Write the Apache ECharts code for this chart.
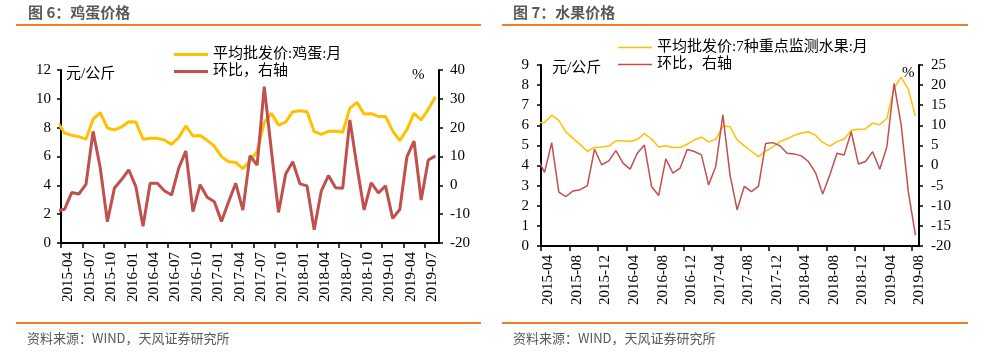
<!DOCTYPE html>
<html><head><meta charset="utf-8">
<script src="https://cdn.jsdelivr.net/npm/echarts@6/dist/echarts.min.js"></script>
<style>html,body{margin:0;padding:0;background:#fff}#c{width:992px;height:359px}</style>
</head><body><div id="c"></div>
<script>
// Months (2015-03 is the point just before the axis start; it is clipped by the grid)
const months = [
 '2015-03','2015-04','2015-05','2015-06','2015-07','2015-08','2015-09','2015-10','2015-11','2015-12',
 '2016-01','2016-02','2016-03','2016-04','2016-05','2016-06','2016-07','2016-08','2016-09','2016-10','2016-11','2016-12',
 '2017-01','2017-02','2017-03','2017-04','2017-05','2017-06','2017-07','2017-08','2017-09','2017-10','2017-11','2017-12',
 '2018-01','2018-02','2018-03','2018-04','2018-05','2018-06','2018-07','2018-08','2018-09','2018-10','2018-11','2018-12',
 '2019-01','2019-02','2019-03','2019-04','2019-05','2019-06','2019-07','2019-08'
];
// 平均批发价:鸡蛋:月 (元/公斤)
const eggPrice = [8.4,
 7.63,7.47,7.38,7.2,8.59,9.05,7.98,7.84,8.05,
 8.41,8.39,7.2,7.26,7.26,7.14,6.84,7.31,8.12,7.43,7.46,7.12,
 6.72,5.99,5.64,5.59,5.15,5.7,6.35,8.35,8.99,8.18,8.39,9.11,
 9.18,9.11,7.72,7.54,7.75,7.75,7.68,9.36,9.76,8.94,8.97,8.78,
 8.78,7.78,7.1,7.87,8.99,8.53,9.28,10.15];
// 鸡蛋 环比 (%)
const eggMoM = [-8.8,
 -8.3,-2.5,-3.0,0.3,18.7,6.2,-12.6,-0.9,2.0,
 5.4,-0.5,-14.2,0.7,0.7,-1.9,-3.35,5.9,11.9,-9.1,0.2,-4.1,
 -5.7,-12.5,-5.7,0.7,-8.6,10.3,7.0,34.2,12.0,-9.4,3.9,8.2,
 0.5,-0.2,-15.4,-1.9,3.4,-0.8,-1.0,22.7,6.5,-8.55,0.9,-2.65,
 -0.2,-11.45,-8.4,9.9,15.3,-5.1,8.8,10.2];
// 平均批发价:7种重点监测水果:月 (元/公斤)
const fruitPrice = [6.15,
 6.13,6.51,6.25,5.66,5.35,5.04,4.71,4.9,4.92,
 4.97,5.23,5.23,5.2,5.3,5.59,5.32,4.92,4.98,4.9,4.9,5.06,
 5.28,5.41,5.18,5.3,5.97,5.93,5.28,4.98,4.71,4.44,4.72,4.92,
 5.19,5.33,5.5,5.62,5.68,5.5,5.15,4.97,5.19,5.32,5.75,5.8,
 5.82,6.11,6.03,6.35,7.85,8.39,7.8,6.46];
// 水果 环比 (%)
const fruitMoM = [1.8,
 -1.7,5.7,-6.6,-7.7,-6.3,-6.0,-5.0,4.05,0.2,
 1.15,3.7,0.6,-0.9,3.07,5.1,-5.2,-7.45,1.65,-1.9,-0.65,4.0,
 3.5,2.65,-4.8,-0.25,12.6,-2.3,-11.0,-5.2,-6.5,-5.1,5.5,5.7,
 4.9,3.05,2.9,2.4,1.0,-1.8,-7.1,-2.3,3.05,2.6,8.4,0.4,
 1.0,3.45,-0.9,4.7,20.4,10.1,-6.5,-17.3];
const eggTicks = ['2015-04','2015-07','2015-10','2016-01','2016-04','2016-07','2016-10','2017-01','2017-04','2017-07','2017-10','2018-01','2018-04','2018-07','2018-10','2019-01','2019-04','2019-07'];
const fruitTicks = ['2015-04','2015-08','2015-12','2016-04','2016-08','2016-12','2017-04','2017-08','2017-12','2018-04','2018-08','2018-12','2019-04','2019-08'];

const START = '2015-04', END = '2019-09';
function idx(m){ const p = m.split('-').map(Number); const s = START.split('-').map(Number); return (p[0]-s[0])*12 + (p[1]-s[1]); }
function pos(m){ return idx(m) + 0.5; } // monthly value plotted mid-month
function pairs(arr){ return arr.map((v,i)=>[pos(months[i]), v]); }

const SERIF = '"Liberation Serif","Times New Roman","Noto Sans CJK SC",serif';
const CJK = '"Noto Sans CJK SC","Microsoft YaHei",sans-serif';
const ORANGE = '#EF7F22';
const YEL = '#FFC000', RED = '#C0504D';

function xAxis(grid, ticks){
  const step = idx(ticks[1]) - idx(ticks[0]);
  const vals = ticks.map(t=>idx(t));
  return {
    type:'value', gridIndex:grid, min:0, max:idx(END), interval:step,
    splitLine:{show:false},
    axisLine:{show:true, lineStyle:{color:'#000', width:2}},
    axisTick:{show:true, length:5, lineStyle:{color:'#000', width:1.5}, customValues:vals},
    axisLabel:{rotate:90, margin:9, fontSize:15, fontFamily:SERIF, color:'#000', verticalAlign:'top',
      customValues:vals, formatter:v=>ticks[vals.indexOf(v)] || ''}
  };
}
function yAxis(grid, position, min, max, interval, margin){
  return {
    type:'value', gridIndex:grid, position, min, max, interval,
    splitLine:{show:false},
    axisLine:{show:true, onZero:false, lineStyle:{color:'#000', width:2}},
    axisTick:{show:true, length:4, lineStyle:{color:'#000', width:1.5}},
    axisLabel:{margin, fontSize:15, fontFamily:SERIF, color:'#000'}
  };
}

function text(x, y, t, font, color, extra){
  return Object.assign({type:'text', x, y, silent:true, style:{text:t, font, fill:color, align:'left', verticalAlign:'middle'}}, extra||{});
}
function hline(x1, x2, y){
  return {type:'line', silent:true, shape:{x1, y1:y, x2, y2:y}, style:{stroke:ORANGE, lineWidth:2}};
}

const chart = echarts.init(document.getElementById('c'), null, {renderer:'canvas'});
chart.setOption({
  animation:false,
  backgroundColor:'#fff',
  grid:[
    {left:61, top:70, width:378, height:173},
    {left:541, top:65, width:378, height:181}
  ],
  xAxis:[ xAxis(0, eggTicks), xAxis(1, fruitTicks) ],
  yAxis:[
    yAxis(0,'left',0,12,2,10),
    yAxis(0,'right',-20,40,10,11),
    yAxis(1,'left',0,9,1,12),
    yAxis(1,'right',-20,25,5,12)
  ],
  legend:[
    {left:174, top:47, padding:0, orient:'vertical', itemWidth:34, itemHeight:3, itemGap:2, icon:'rect', selectedMode:false,
     data:['平均批发价:鸡蛋:月','环比，右轴'],
     textStyle:{fontSize:15, lineHeight:15, fontFamily:SERIF, color:'#000'}},
    {left:618, top:40, padding:0, orient:'vertical', itemWidth:34, itemHeight:1.5, itemGap:2, icon:'rect', selectedMode:false,
     data:['平均批发价:7种重点监测水果:月','环比，右轴 '],
     textStyle:{fontSize:15, lineHeight:15, fontFamily:SERIF, color:'#000'}}
  ],
  series:[
    {type:'line', name:'平均批发价:鸡蛋:月', xAxisIndex:0, yAxisIndex:0, data:pairs(eggPrice), symbol:'none', clip:true,
     lineStyle:{color:YEL, width:3}, itemStyle:{color:YEL}},
    {type:'line', name:'环比，右轴', xAxisIndex:0, yAxisIndex:1, data:pairs(eggMoM), symbol:'none', clip:true,
     lineStyle:{color:RED, width:3}, itemStyle:{color:RED}},
    {type:'line', name:'平均批发价:7种重点监测水果:月', xAxisIndex:1, yAxisIndex:2, data:pairs(fruitPrice), symbol:'none', clip:true,
     lineStyle:{color:YEL, width:1.5}, itemStyle:{color:YEL}},
    {type:'line', name:'环比，右轴 ', xAxisIndex:1, yAxisIndex:3, data:pairs(fruitMoM), symbol:'none', clip:true,
     lineStyle:{color:RED, width:1.5}, itemStyle:{color:RED}}
  ],
  graphic:[
    text(28, 12, '图 6：鸡蛋价格', 'bold 15px '+CJK, '#595959'),
    text(513, 12, '图 7：水果价格', 'bold 15px '+CJK, '#595959'),
    hline(16, 481, 25),
    hline(502, 968, 25),
    hline(16, 481, 323),
    hline(502, 968, 323),
    text(27, 338, '资料来源：WIND，天风证券研究所', '13px '+CJK, '#595959'),
    text(513, 338, '资料来源：WIND，天风证券研究所', '13px '+CJK, '#595959'),
    text(66, 74, '元/公斤', '15px '+SERIF, '#000'),
    text(412, 75, '%', '15px '+SERIF, '#000'),
    text(552, 68, '元/公斤', '15px '+SERIF, '#000'),
    text(902, 73, '%', '15px '+SERIF, '#000')
  ]
});
</script></body></html>
